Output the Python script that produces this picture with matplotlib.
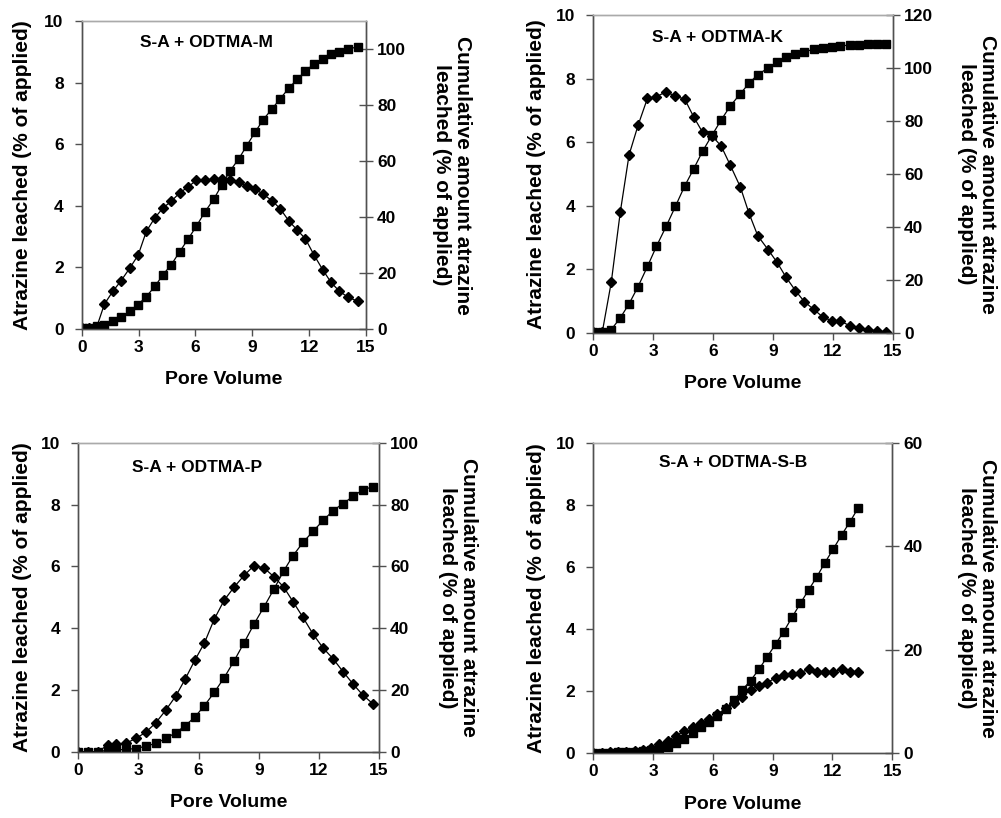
import matplotlib.pyplot as plt

plt.rcParams['font.family'] = ['Liberation Sans', 'DejaVu Sans']
plt.rcParams['font.weight'] = 'bold'

# ---- data ----
# panel A: S-A + ODTMA-M
pv_m = [0, 0.41, 0.79, 1.2, 1.64, 2.08, 2.54, 2.98, 3.41, 3.86, 4.29, 4.73, 5.17, 5.61,
        6.05, 6.49, 6.97, 7.39, 7.82, 8.29, 8.7, 9.14, 9.58, 10.04, 10.48, 10.94, 11.38,
        11.8, 12.26, 12.72, 13.16, 13.59, 14.03, 14.56]
leach_m = [0.03, 0.03, 0.06, 0.81, 1.22, 1.57, 1.98, 2.4, 3.17, 3.61, 3.93, 4.15, 4.42, 4.61,
           4.83, 4.83, 4.87, 4.87, 4.83, 4.77, 4.63, 4.55, 4.37, 4.17, 3.9, 3.5, 3.21,
           2.93, 2.4, 1.92, 1.51, 1.23, 1.04, 0.9]
cum_m = [0.4, 0.4, 1.0, 1.5, 2.7, 4.2, 6.3, 8.7, 11.6, 15.2, 19.4, 23.0, 27.6, 32.1,
         36.7, 41.7, 46.4, 51.4, 56.4, 60.8, 65.4, 70.2, 74.8, 78.6, 82.3, 86.1, 89.3,
         92.0, 94.8, 96.6, 98.1, 98.9, 99.9, 100.8]

# panel B: S-A + ODTMA-K
pv_k = [0, 0.45, 0.9, 1.35, 1.79, 2.24, 2.71, 3.16, 3.65, 4.11, 4.57, 5.03, 5.47, 5.94,
        6.4, 6.86, 7.36, 7.79, 8.23, 8.75, 9.2, 9.65, 10.12, 10.57, 11.04, 11.51, 11.96,
        12.37, 12.84, 13.31, 13.75, 14.18, 14.67]
leach_k = [0.02, 0.03, 1.6, 3.8, 5.6, 6.53, 7.38, 7.43, 7.59, 7.44, 7.36, 6.79, 6.31, 6.2,
           5.88, 5.27, 4.59, 3.77, 3.06, 2.62, 2.22, 1.75, 1.33, 0.98, 0.74, 0.49, 0.38,
           0.37, 0.23, 0.15, 0.1, 0.07, 0.03]
cum_k = [0.3, 0.4, 1.3, 5.7, 11.0, 17.5, 25.1, 32.7, 40.3, 47.8, 55.4, 62.0, 68.6, 74.6,
         80.4, 85.7, 90.3, 94.2, 97.5, 100.0, 102.3, 104.2, 105.4, 106.2, 107.0, 107.6, 108.1,
         108.4, 108.6, 108.7, 108.9, 108.9, 108.9]

# panel C: S-A + ODTMA-P
pv_p = [0, 0.5, 1.0, 1.46, 1.88, 2.37, 2.87, 3.37, 3.87, 4.37, 4.87, 5.33, 5.81, 6.29,
        6.78, 7.28, 7.77, 8.27, 8.77, 9.27, 9.77, 10.25, 10.71, 11.21, 11.71, 12.21, 12.71,
        13.21, 13.71, 14.2, 14.7]
leach_p = [0, 0, 0, 0.22, 0.24, 0.27, 0.43, 0.63, 0.94, 1.35, 1.81, 2.35, 2.96, 3.52,
           4.29, 4.91, 5.33, 5.71, 6.03, 5.95, 5.66, 5.33, 4.86, 4.35, 3.81, 3.36, 3.01,
           2.59, 2.19, 1.83, 1.55]
cum_p = [0, 0, 0, 0.5, 0.5, 0.8, 1.0, 1.8, 2.7, 4.3, 6.2, 8.4, 11.2, 14.9,
         19.2, 24.0, 29.4, 35.3, 41.4, 47.0, 52.8, 58.6, 63.5, 67.8, 71.4, 74.9, 78.1,
         80.4, 82.7, 84.9, 85.8]

# panel D: S-A + ODTMA-S-B
pv_sb = [0, 0.42, 0.84, 1.24, 1.66, 2.08, 2.5, 2.91, 3.32, 3.74, 4.15, 4.57, 4.99, 5.39,
         5.81, 6.23, 6.65, 7.07, 7.47, 7.89, 8.31, 8.73, 9.15, 9.55, 9.97, 10.39, 10.8,
         11.22, 11.62, 12.04, 12.46, 12.88, 13.3]
leach_sb = [0.02, 0.02, 0.03, 0.03, 0.05, 0.08, 0.11, 0.18, 0.29, 0.41, 0.56, 0.72, 0.86, 0.99,
            1.09, 1.26, 1.45, 1.61, 1.82, 2.04, 2.17, 2.27, 2.44, 2.52, 2.54, 2.6, 2.7,
            2.63, 2.63, 2.63, 2.7, 2.63, 2.63]
cum_sb = [0.13, 0.13, 0.13, 0.19, 0.26, 0.32, 0.45, 0.58, 0.84, 1.29, 1.93, 2.77, 3.86, 5.15,
          6.12, 7.28, 8.56, 10.3, 12.23, 14.04, 16.23, 18.67, 21.12, 23.5, 26.27, 28.98, 31.55,
          34.13, 36.83, 39.47, 42.18, 44.75, 47.46]

titles = ["S-A + ODTMA-M", "S-A + ODTMA-K", "S-A + ODTMA-P", "S-A + ODTMA-S-B"]
right_max = [110, 120, 100, 60]
right_ticks = [[0, 20, 40, 60, 80, 100], [0, 20, 40, 60, 80, 100, 120],
               [0, 20, 40, 60, 80, 100], [0, 20, 40, 60]]
panels = [(pv_m, leach_m, cum_m), (pv_k, leach_k, cum_k),
          (pv_p, leach_p, cum_p), (pv_sb, leach_sb, cum_sb)]

# axes boxes in pixels: left, right, top, bottom
W, H = 1001, 818
boxes = [(81.7, 366, 21, 329), (593.3, 893, 15, 333),
         (78.3, 379, 443, 751.7), (593.3, 892.3, 442.7, 753.3)]
title_pos = [(0.44, 0.93), (0.416, 0.93), (0.395, 0.922), (0.467, 0.935)]
left_lab_x = [23, 536, 23, 536]
right_lab_x = [452, 977, 458, 977]

fig = plt.figure(figsize=(W / 100, H / 100), dpi=100)
spine_col = '#505050'

for i, (x, leach, cum) in enumerate(panels):
    l, r, t, b = boxes[i]
    ax = fig.add_axes([l / W, 1 - b / H, (r - l) / W, (b - t) / H])
    ax2 = ax.twinx()

    ax.plot(x, leach, color='black', lw=0.9, marker='D', ms=5.3, zorder=3)
    ax2.plot(x, cum, color='black', lw=0.9, marker='s', ms=5.8)

    ax.set_xlim(0, 15)
    ax.set_ylim(0, 10)
    ax2.set_ylim(0, right_max[i])
    ax.set_xticks([0, 3, 6, 9, 12, 15])
    ax.set_yticks([0, 2, 4, 6, 8, 10])
    ax2.set_yticks(right_ticks[i])

    for a in (ax, ax2):
        for s in a.spines.values():
            s.set_color(spine_col)
            s.set_linewidth(1.0)
        a.spines['top'].set_color('#aaaaaa')
    ax.tick_params(axis='both', direction='out', length=5, width=1, color=spine_col,
                   labelsize=12.5, pad=3)
    ax.tick_params(axis='y', pad=8)
    ax2.tick_params(axis='y', direction='inout', length=10, width=1, color=spine_col,
                    labelsize=12.5, pad=3)
    for lab in ax.get_xticklabels() + ax.get_yticklabels() + ax2.get_yticklabels():
        lab.set_fontweight('bold')

    ax.text(title_pos[i][0], title_pos[i][1], titles[i], transform=ax.transAxes,
            ha='center', va='center', fontsize=12.5, fontweight='bold')

    bh = b - t
    bw = r - l
    ax.text(0.5, -51 / bh, "Pore Volume", transform=ax.transAxes, ha='center',
            va='center', fontsize=14, fontweight='bold')
    ax.text((left_lab_x[i] - l) / bw, 0.5, "Atrazine leached (% of applied)",
            transform=ax.transAxes, ha='center', va='center', rotation=90,
            fontsize=15, fontweight='bold')
    ax.text((right_lab_x[i] - l) / bw, 0.5,
            "Cumulative amount atrazine\nleached (% of applied)",
            transform=ax.transAxes, ha='center', va='center', rotation=270,
            fontsize=15, fontweight='bold', multialignment='center', linespacing=1.15)

fig.savefig("out.png", dpi=100)
